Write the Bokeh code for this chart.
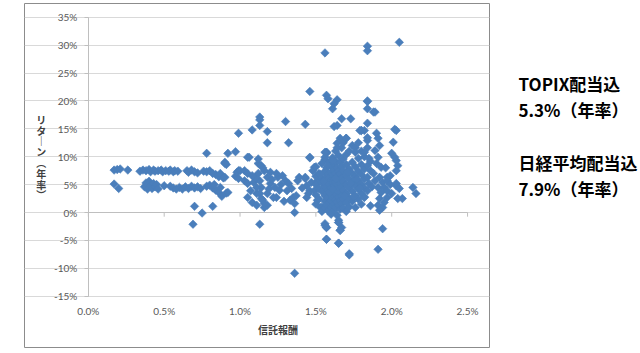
import numpy as np
from bokeh.plotting import figure
from bokeh.models import Range1d, PrintfTickFormatter, FixedTicker, LinearAxis, ColumnDataSource
from bokeh.embed import file_html
from bokeh.resources import INLINE

# ---------------- data (信託報酬 %, リターン(年率) %) ----------------
fee_low = [0.17, 0.19, 0.21, 0.26, 0.34, 0.36, 0.38, 0.40, 0.41, 0.43, 0.44, 0.46, 0.48, 0.49, 0.51, 0.53,
           0.54, 0.56, 0.57, 0.59, 0.65, 0.66, 0.68, 0.70, 0.72, 0.76, 0.78, 0.80, 0.82, 0.84, 0.86, 0.87, 0.89,
           0.17, 0.20, 0.37, 0.38, 0.39, 0.40, 0.41, 0.42, 0.43, 0.44, 0.45, 0.46, 0.50, 0.54, 0.56, 0.58,
           0.60, 0.62, 0.64, 0.66, 0.68, 0.70, 0.72, 0.74, 0.78, 0.80, 0.82, 0.84, 0.86, 0.87, 0.88, 0.91, 0.83,
           0.70, 0.75, 0.69, 0.82, 0.78, 0.92, 0.90, 0.97, 0.97, 0.99, 0.99, 1.08, 1.06, 0.91]
ret_low = [7.6, 7.7, 7.8, 7.6, 7.4, 7.6, 7.5, 7.7, 7.3, 7.6, 7.4, 7.5, 7.6, 7.3, 7.5, 7.4,
           7.6, 7.3, 7.5, 7.4, 7.5, 7.2, 7.6, 7.3, 7.1, 7.4, 7.3, 7.5, 7.0, 6.8, 6.4, 7.0, 6.2,
           5.1, 4.3, 4.6, 5.3, 4.2, 5.6, 4.8, 4.3, 5.2, 4.6, 5.0, 4.2, 4.8, 4.7, 4.4, 4.2,
           4.5, 4.2, 4.6, 4.3, 4.7, 4.4, 4.6, 4.3, 4.7, 4.9, 4.4, 4.0, 3.6, 4.5, 2.9, 3.5, 5.0,
           1.1, -0.1, -2.1, 1.1, 10.6, 10.6, 9.0, 10.9, 6.5, 7.5, 14.2, 14.8, 9.9, 8.6]

fee_mid = [0.90, 0.90, 0.92, 0.98, 1.00, 0.99, 1.03, 1.05, 1.07, 1.05, 1.08, 1.11, 1.12, 1.12, 1.13, 1.14,
           1.11, 1.15, 1.18, 1.20, 1.18, 1.23, 1.25, 1.24, 1.18, 1.16, 1.30, 1.32, 1.31, 1.34, 1.35, 1.33,
           1.36, 1.38, 1.39, 1.43, 1.44, 1.36, 1.05, 1.12, 1.14, 1.16, 1.03, 1.05, 1.09, 1.11, 1.13, 1.16,
           1.22, 1.24, 1.14, 1.13, 1.28, 1.26, 1.21, 1.10, 1.19, 1.27, 1.37, 1.41, 1.29, 1.08, 1.15, 1.20]
ret_mid = [8.8, 6.3, 3.6, 7.2, 7.5, 6.1, 5.7, 5.2, 3.9, 2.7, 1.8, 1.3, 8.8, 7.0, 5.7, 4.5,
           3.4, 2.2, 6.3, 5.2, 3.4, 4.5, 6.3, 2.7, 1.3, 0.9, 5.7, 5.2, 3.9, 4.3, 2.7, 2.2,
           1.6, 5.7, 6.3, 6.1, 4.8, 0.0, 9.9, 9.6, 8.4, 7.5, 7.5, 7.0, 5.4, 4.5, 3.4, 1.6,
           2.7, 7.0, 2.5, -2.1, 6.6, 4.0, 5.9, 6.2, 4.2, 5.0, 3.0, 4.4, 2.0, 6.6, 8.0, 7.2]

fee_core = [1.46, 1.46, 1.44, 1.43, 1.45, 1.49, 1.51, 1.49, 1.51, 1.53, 1.47, 1.48,
            1.50, 1.50, 1.50, 1.50, 1.50, 1.52, 1.52, 1.52, 1.54, 1.54, 1.54, 1.54, 1.54, 1.54,
            1.56, 1.56, 1.56, 1.56, 1.56, 1.56, 1.56, 1.56, 1.57, 1.57, 1.57, 1.57, 1.57, 1.57, 1.57,
            1.58, 1.58, 1.58, 1.58, 1.59, 1.59, 1.59, 1.59,
            1.60, 1.60, 1.60, 1.60, 1.60, 1.60, 1.60, 1.60, 1.61, 1.61, 1.61, 1.61, 1.61, 1.61,
            1.62, 1.62, 1.62, 1.62, 1.62, 1.62, 1.62, 1.62, 1.63, 1.63, 1.63, 1.63, 1.63, 1.63, 1.63,
            1.64, 1.64, 1.64, 1.64, 1.64, 1.64, 1.64, 1.65, 1.65, 1.65, 1.65, 1.65, 1.65, 1.65, 1.65, 1.65,
            1.66, 1.66, 1.66, 1.66, 1.66, 1.66, 1.66, 1.66, 1.67, 1.67, 1.67, 1.67, 1.67, 1.67, 1.67,
            1.68, 1.68, 1.68, 1.68, 1.68, 1.68, 1.68, 1.70, 1.70, 1.70, 1.70, 1.70, 1.70, 1.70, 1.70,
            1.72, 1.72, 1.72, 1.72, 1.72, 1.72, 1.72, 1.74, 1.74, 1.74, 1.74, 1.74, 1.74,
            1.76, 1.76, 1.76, 1.76, 1.76, 1.76, 1.76, 1.78, 1.78, 1.78, 1.78, 1.78, 1.78,
            1.80, 1.80, 1.80, 1.80, 1.80, 1.80, 1.80, 1.82, 1.82, 1.82, 1.82, 1.82,
            1.59, 1.61, 1.63, 1.69, 1.71, 1.73, 1.75, 1.77, 1.79, 1.55, 1.53, 1.58]
ret_core = [9.8, 3.9, 2.7, 6.3, 3.4, 8.1, 5.7, 3.9, 2.2, 0.9, 5.4, 7.5,
            8.2, 6.5, 5.0, 3.2, 1.5, 7.0, 4.3, 2.4, 8.8, 6.0, 5.3, 3.8, 1.0, 0.2,
            9.5, 7.4, 6.2, 4.6, 3.0, 2.0, 0.8, -2.0, 10.6, 8.0, 5.6, 3.5, 1.4, -2.7, -4.8,
            7.0, 4.0, 2.6, 0.3, 9.0, 6.3, 5.0, 1.8,
            8.4, 7.2, 5.8, 4.4, 3.2, 2.1, 0.9, -0.3, 9.8, 6.7, 5.3, 3.8, 2.6, 1.2,
            8.6, 7.6, 6.0, 4.8, 4.0, 2.9, 1.6, 0.4, 11.0, 9.2, 7.0, 5.5, 3.4, 2.3, 0.9,
            12.4, 8.0, 6.4, 5.0, 3.9, 1.9, -0.5, 10.2, 7.4, 5.8, 4.4, 2.8, 1.3, -1.4, -1.8, -5.5,
            13.3, 9.0, 6.9, 5.2, 3.6, 2.2, 0.6, -3.2, 11.6, 8.2, 6.2, 4.6, 3.0, 1.6, -2.7,
            12.5, 9.6, 7.5, 5.6, 4.0, 2.4, 0.8, 13.3, 10.4, 8.6, 6.6, 5.0, 3.4, 1.8, 0.2,
            11.0, 7.8, 6.0, 4.4, 2.6, 1.0, -7.4, 12.0, 9.0, 7.0, 5.4, 3.8, 2.0,
            11.6, 10.8, 8.2, 6.4, 4.8, 3.0, 0.9, 12.5, 9.7, 7.4, 5.6, 4.2, 2.4,
            14.7, 11.0, 8.6, 6.8, 5.0, 3.4, 1.5, 10.0, 7.8, 6.0, 4.4, 2.8,
            3.6, 4.2, 6.1, 3.0, 7.2, 5.2, 2.8, 6.0, 4.4, 5.6, 6.8, 8.4]

fee_high = [1.82, 1.84, 1.84, 1.89, 1.84, 1.84, 1.82, 1.85, 1.84, 1.86, 1.84, 1.85, 1.84, 1.82, 1.86,
            1.90, 1.91, 1.92, 1.89, 1.91, 1.90, 1.93, 1.92, 1.89, 1.94, 1.91, 1.93, 1.92, 1.91, 1.94, 1.92,
            1.97, 1.99, 1.97, 1.95, 1.97, 1.97, 1.95, 2.00, 2.03, 2.04, 2.03, 2.03, 2.05, 2.00, 2.04,
            2.14, 2.16, 2.03, 2.01, 1.94, 1.91, 2.07, 2.03, 1.88, 1.87, 1.86, 1.96, 1.99, 2.02]
ret_high = [14.7, 16.0, 19.9, 18.0, 12.9, 11.6, 10.8, 9.7, 8.4, 7.5, 6.3, 5.2, 3.9, 2.7, 1.2,
            14.2, 13.3, 12.0, 11.1, 9.9, 8.8, 8.1, 6.3, 5.7, 5.4, 4.5, 3.6, 2.5, 1.3, 0.9, 0.4,
            6.3, 6.6, 5.7, 4.5, 3.9, 2.7, 1.8, 10.6, 9.3, 8.4, 7.5, 4.8, 4.3, 3.4, 2.5,
            4.5, 3.4, 14.7, 12.6, -2.9, -6.6, 2.5, 5.2, 7.0, 4.6, 9.2, 8.0, 5.0, 9.9]

fee_out = [1.46, 1.57, 1.58, 1.64, 1.62, 1.61, 1.56, 1.84, 1.84, 2.05, 1.84, 1.84, 1.88, 1.80, 2.02,
           1.43, 1.30, 1.18, 1.18, 1.32, 1.13, 1.13, 1.13, 1.57, 1.64, 1.67, 1.73, 1.62, 1.64, 1.57, 1.61,
           1.36, 1.57, 1.65, 1.72, 1.56, 1.57, 1.65, 1.66, 1.56, 1.46, 1.56, 1.79, 1.84, 1.70]
ret_out = [21.7, 21.0, 20.4, 20.2, 19.5, 18.6, 28.6, 29.8, 29.0, 30.5, 20.0, 18.6, 18.0, 14.7, 14.9,
           15.8, 16.3, 14.5, 12.5, 12.5, 17.1, 16.6, 15.6, 10.8, 11.6, 16.8, 16.8, 15.4, 15.6, 10.8, 9.3,
           -10.9, -4.8, -5.5, -7.6, -2.3, -2.7, -1.8, -3.2, 10.8, 9.9, 9.9, 14.7, 13.4, 13.3]

fee = fee_low + fee_mid + fee_core + fee_high + fee_out
ret = ret_low + ret_mid + ret_core + ret_high + ret_out

x_ticks = [0.0, 0.5, 1.0, 1.5, 2.0, 2.5]
y_ticks = [-15, -10, -5, 0, 5, 10, 15, 20, 25, 30, 35]

x_title = "信託報酬"
y_title = "リ\nタ\n｜\nン\n︵\n年\n率\n︶"
side_lines = ["TOPIX配当込", "5.3%（年率）", " ", "日経平均配当込", "7.9%（年率）"]

# ---------------- figure ----------------
# the frame is the whole chart box; the plot area (0..2.5 x -15..35) sits inside it
PX_X = 152.0   # px per 1% on x
PX_Y = 5.58    # px per 1% on y
x_lo, x_hi = -64 / PX_X, 402 / PX_X
y_lo, y_hi = -135 / PX_Y, 209 / PX_Y

p = figure(width=640, height=353, output_backend="svg", toolbar_location=None,
           x_range=Range1d(x_lo, x_hi), y_range=Range1d(y_lo, y_hi),
           min_border_left=24, min_border_right=150, min_border_top=3, min_border_bottom=6)
p.background_fill_color = "white"
p.border_fill_color = "white"
p.outline_line_color = "#8C8C8C"
p.outline_line_width = 1

p.xgrid.grid_line_color = None
p.ygrid.grid_line_color = "#D9D9D9"
p.ygrid.ticker = FixedTicker(ticks=y_ticks)
p.ygrid.bounds = (0, 2.5)

# x axis: labels at the bottom of the plot area
xa = p.xaxis[0]
xa.fixed_location = -15
xa.bounds = (0, 2.5)
xa.ticker = FixedTicker(ticks=x_ticks)
xa.formatter = PrintfTickFormatter(format="%.1f%%")
xa.axis_line_color = None
xa.major_tick_line_color = None
xa.minor_tick_line_color = None
xa.major_tick_out = 0
xa.major_label_standoff = 9
xa.axis_label = x_title
xa.axis_label_standoff = 1
xa.axis_label_text_font = "Noto Sans CJK JP"
xa.axis_label_text_font_size = "10px"
xa.axis_label_text_font_style = "bold"
xa.axis_label_text_color = "#404040"

ya = p.yaxis[0]
ya.fixed_location = 0
ya.bounds = (-15, 35)
ya.ticker = FixedTicker(ticks=y_ticks)
ya.formatter = PrintfTickFormatter(format="%d%%")
ya.axis_line_color = "#BFBFBF"
ya.major_tick_line_color = "#BFBFBF"
ya.minor_tick_line_color = None
ya.major_tick_in = 0
ya.major_tick_out = 4
ya.major_label_standoff = 7
ya.axis_label = y_title
ya.axis_label_orientation = "horizontal"
ya.axis_label_standoff = 5
ya.axis_label_text_font = "Noto Sans CJK JP"
ya.axis_label_text_font_size = "10px"
ya.axis_label_text_font_style = "bold"
ya.axis_label_text_color = "#404040"
ya.axis_label_text_line_height = 0.72

for ax in (xa, ya):
    ax.major_label_text_font = "Lato"
    ax.major_label_text_font_size = "10px"
    ax.major_label_text_color = "#595959"

# side notes (right of the chart box); trailing blank lines lift the block up
side_text = "\n".join(side_lines + [" ", " ", " "])
ra = LinearAxis(ticker=FixedTicker(ticks=[]), axis_line_color=None, major_tick_line_color=None,
                minor_tick_line_color=None,
                axis_label=side_text, axis_label_orientation="horizontal", axis_label_standoff=29,
                axis_label_text_font="Noto Sans CJK JP", axis_label_text_font_size="17px",
                axis_label_text_font_style="bold", axis_label_text_color="#000000",
                axis_label_text_line_height=1.05)
p.add_layout(ra, "right")

# horizontal axis line crossing at 0 with its tick marks
p.segment(x0=[x_ticks[0]], x1=[x_ticks[-1]], y0=[0], y1=[0], line_color="#BFBFBF", line_width=1)
p.segment(x0=x_ticks, x1=x_ticks, y0=[0] * len(x_ticks), y1=[-0.75] * len(x_ticks),
          line_color="#BFBFBF", line_width=1)

src = ColumnDataSource(data=dict(fee=fee, ret=ret))
p.scatter("fee", "ret", source=src, marker="square", angle=np.pi / 4, size=6,
          fill_color="#4A7EBB", line_color="#4A7EBB", line_width=0.6)

open("out.html", "w").write(file_html(p, INLINE))
